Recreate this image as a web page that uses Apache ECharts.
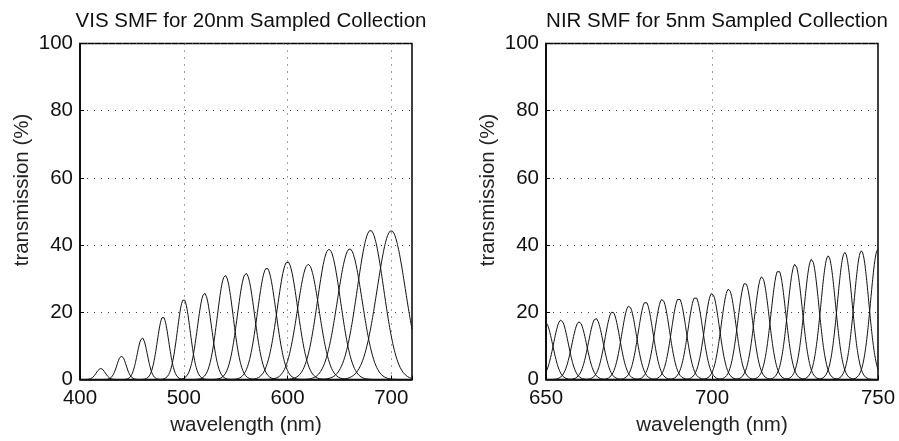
<!DOCTYPE html>
<html>
<head>
<meta charset="utf-8">
<script src="https://cdn.jsdelivr.net/npm/echarts@6/dist/echarts.min.js"></script>
<style>
html,body{margin:0;padding:0;background:#fff;}
#c{width:899px;height:441px;}
</style>
</head>
<body>
<div id="c"></div>
<script>
// ---- data ----
const visCenters = [420, 440, 460, 480, 500, 520, 540, 560, 580, 600, 620, 640, 660, 680, 700];
const visHeights = [3.3, 7.0, 12.4, 18.7, 23.9, 25.7, 31.0, 31.6, 33.2, 35.1, 34.3, 38.8, 38.9, 44.4, 44.3];
const visFwhm    = [10, 10.5, 11.5, 13, 14.5, 16, 18, 19.5, 21, 23, 24.5, 26, 28, 30, 32];

const nirCenters = [649.8, 654.5, 660, 665, 670, 675, 680, 685, 690, 695, 700, 705, 710, 715, 720, 725, 730, 735, 740, 745, 750];
const nirHeights = [17.0, 17.7, 17.2, 18.2, 20.2, 21.9, 23.2, 23.9, 24.2, 24.6, 25.7, 26.9, 28.8, 30.6, 32.6, 34.3, 35.8, 36.8, 37.8, 38.3, 38.8];
const nirFwhm    = [5.2, 5.2, 5.2, 5.2, 5.2, 5.2, 5.2, 5.2, 5.2, 5.2, 5.2, 5.2, 5.2, 5.2, 5.2, 5.2, 5.2, 5.2, 5.2, 5.2, 5.2];

const visXTicks = [400, 500, 600, 700];
const nirXTicks = [650, 700, 750];
const yTicks = [0, 20, 40, 60, 80, 100];

const titles = ['VIS SMF for 20nm Sampled Collection', 'NIR SMF for 5nm Sampled Collection'];
const xName = 'wavelength (nm)';
const yName = 'transmission (%)';

// ---- filter response curves (band shape from centre, peak, FWHM) ----
function bandCurve(c, h, w, lo, hi, step) {
  const s = w / 2.3548;
  const pts = [];
  for (let x = lo; x <= hi + 1e-9; x += step) {
    const xv = Math.round(x * 1000) / 1000;
    pts.push([xv, h * Math.exp(-((xv - c) * (xv - c)) / (2 * s * s))]);
  }
  return pts;
}

const FONT = '"Liberation Sans", Arial, Helvetica, sans-serif';
const FS = 20.5;
const series = [];
visCenters.forEach((c, i) => {
  series.push({
    type: 'line', xAxisIndex: 0, yAxisIndex: 0, showSymbol: false, symbol: 'none',
    data: bandCurve(c, visHeights[i], visFwhm[i], 400, 720, 0.5),
    lineStyle: { color: '#111', width: 1 }, silent: true, animation: false
  });
});
nirCenters.forEach((c, i) => {
  series.push({
    type: 'line', xAxisIndex: 1, yAxisIndex: 1, showSymbol: false, symbol: 'none',
    data: bandCurve(c, nirHeights[i], nirFwhm[i], 650, 750, 0.1),
    lineStyle: { color: '#111', width: 1 }, silent: true, animation: false
  });
});

function xAxisCfg(idx, min, max, interval, ticks) {
  return {
    type: 'value', gridIndex: idx, min: min, max: max, interval: interval,
    name: xName, nameLocation: 'middle', nameGap: 35,
    nameTextStyle: { fontFamily: FONT, fontSize: FS, color: '#222' },
    axisLine: { show: true, lineStyle: { color: '#000', width: 1.5 } },
    axisTick: { show: true, inside: true, length: 4, lineStyle: { color: '#000' } },
    axisLabel: {
      margin: 8, fontFamily: FONT, fontSize: FS, color: '#111',
      formatter: v => (ticks.indexOf(v) >= 0 ? String(v) : '')
    },
    splitLine: { show: true, lineStyle: { color: '#444', width: 1, type: [1, 6] } }
  };
}
function yAxisCfg(idx) {
  return {
    type: 'value', gridIndex: idx, min: 0, max: 100, interval: 20,
    axisLine: { show: true, lineStyle: { color: '#000', width: 1.5 } },
    axisTick: { show: true, inside: true, length: 4, lineStyle: { color: '#000' } },
    axisLabel: {
      margin: 7, fontFamily: FONT, fontSize: FS, color: '#111',
      formatter: v => (yTicks.indexOf(v) >= 0 ? String(v) : '')
    },
    splitLine: { show: true, lineStyle: { color: '#444', width: 1, type: [1, 6] } }
  };
}

const chart = echarts.init(document.getElementById('c'), null, { renderer: 'canvas' });
chart.setOption({
  backgroundColor: '#fff',
  animation: false,
  title: [
    { text: titles[0], left: 246, top: 6, textAlign: 'center',
      textStyle: { fontFamily: FONT, fontSize: FS, fontWeight: 'normal', color: '#111' } },
    { text: titles[1], left: 712, top: 6, textAlign: 'center',
      textStyle: { fontFamily: FONT, fontSize: FS, fontWeight: 'normal', color: '#111' } }
  ],
  grid: [
    { left: 80, right: 487, top: 43.5, bottom: 61.5, show: true, borderColor: '#000', borderWidth: 1.5, backgroundColor: 'transparent' },
    { left: 546, right: 21, top: 43.5, bottom: 61.5, show: true, borderColor: '#000', borderWidth: 1.5, backgroundColor: 'transparent' }
  ],
  xAxis: [
    xAxisCfg(0, 400, 720, 100, visXTicks),
    xAxisCfg(1, 650, 750, 50, nirXTicks)
  ],
  yAxis: [yAxisCfg(0), yAxisCfg(1)],
  graphic: [
    { type: 'text', x: 22, y: 190, rotation: Math.PI / 2,
      style: { text: yName, font: FS + 'px ' + FONT, fill: '#222', align: 'center', verticalAlign: 'middle', textAlign: 'center', textVerticalAlign: 'middle' } },
    { type: 'text', x: 488, y: 190, rotation: Math.PI / 2,
      style: { text: yName, font: FS + 'px ' + FONT, fill: '#222', align: 'center', verticalAlign: 'middle', textAlign: 'center', textVerticalAlign: 'middle' } }
  ],
  series: series
});
</script>
</body>
</html>
